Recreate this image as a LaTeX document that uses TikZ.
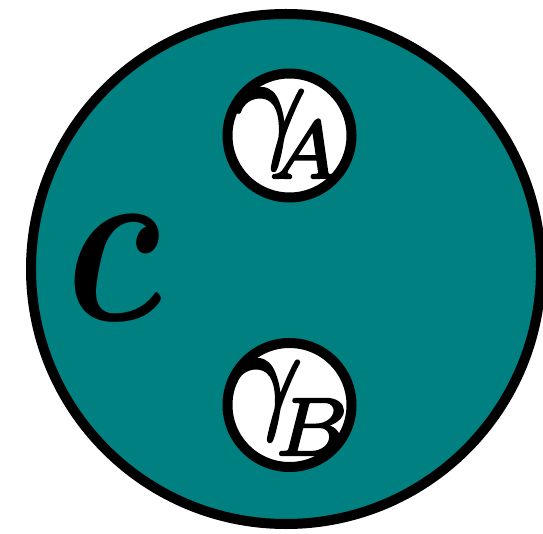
\documentclass[tikz,border=0pt]{standalone}
\usepackage{amsmath,bm,graphicx}
\definecolor{tealc}{RGB}{0,128,128}
\newcommand{\heavytext}[1]{\special{pdf:literal direct 2 Tr 0.2 w 1 j}#1\special{pdf:literal direct 0 Tr}}
\begin{document}
\begin{tikzpicture}[x=1pt,y=-1pt,
  outer/.style={draw=black,line width=10pt,fill=tealc},
  inner/.style={draw=black,line width=10pt,fill=white},
  glyph/.style={inner sep=0pt,outer sep=0pt}]
\useasboundingbox (0,0) rectangle (543,534);
\path[outer] (286,269) circle (255);
\path[inner] (289.5,135.5) circle (62);
\path[inner] (289.5,405) circle (62);
\node[glyph,scale=12.6] (gA) at (286.6,133.85)
  {\heavytext{$\gamma$\kern-3.06pt\raisebox{-2.71pt}{\scalebox{0.93}{$\scriptstyle A$}}}};
\node[glyph,scale=12.6] (gB) at (289.8,407.8)
  {\heavytext{$\gamma$\kern-2.28pt\raisebox{-3.18pt}{\scalebox{0.93}{$\scriptstyle B$}}}};
\node[glyph,xscale=18.6,yscale=23.6] (C) at (114,268) {$\bm{c}$};
\end{tikzpicture}
\end{document}
